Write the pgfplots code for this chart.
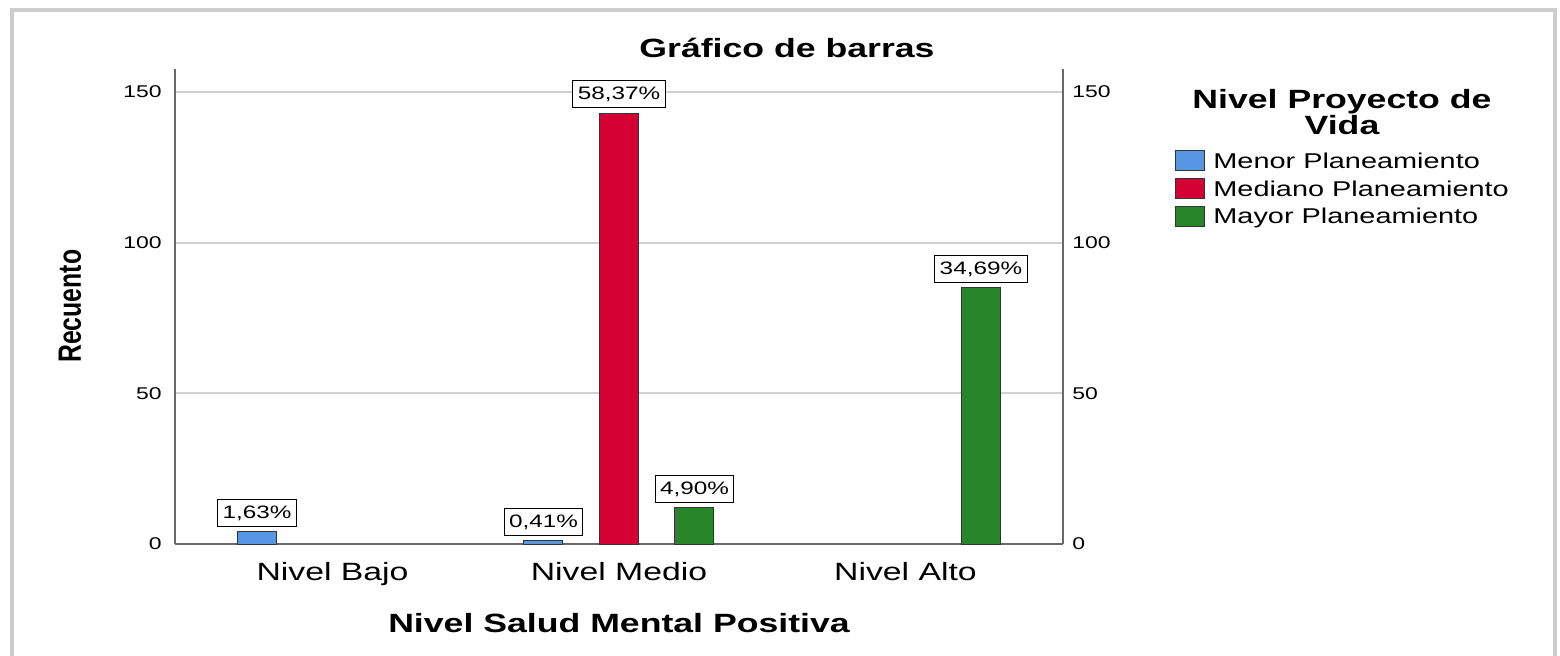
\documentclass[border=0pt]{standalone}
\usepackage{fontspec}
\setmainfont{Liberation Sans}
\usepackage{graphicx}
\usepackage{pgfplots}
\pgfplotsset{compat=1.18}

\definecolor{menor}{RGB}{86,150,226}
\definecolor{mediano}{RGB}{213,0,51}
\definecolor{mayor}{RGB}{41,133,41}
\definecolor{axisgray}{RGB}{105,105,105}
\definecolor{gridgray}{RGB}{208,208,208}
\definecolor{framegray}{RGB}{205,205,205}

% the reference text is set wide
\newcommand\sx[1]{\scalebox{1.35}[1]{#1}}

\pgfplotsset{
  swatch/.style={
    fill=#1, draw=black!80, line width=0.5pt,
    legend image code/.code={\draw[fill=#1, draw=black!80, line width=0.5pt] (0pt,-4.7pt) rectangle (14.5pt,5.3pt);}
  },
  frame/.style={
    at={(0,0)}, anchor=south west,
    scale only axis, width=444pt, height=237.75pt,
    xmin=-0.55, xmax=2.55, ymin=0, ymax=157.8,
    ytick={0,50,100,150},
    major tick length=0pt,
    /pgf/number format/assume math mode=true,
    yticklabel={\sx{\pgfmathprintnumber{\tick}}},
  },
}

\begin{document}
\begin{tikzpicture}[x=1pt,y=1pt]
% 1px of the reference = 0.5pt, origin at the lower left corner of the axis
\useasboundingbox (-87.5,-55.5) rectangle (692.5,272);
\draw[framegray, line width=2pt] (-81.5,-80) -- (-81.5,267.25) -- (690,267.25) -- (690,-80);

\begin{axis}[
  frame,
  ybar,
  axis x line=bottom, axis y line=left,
  axis line style={-, axisgray, line width=1pt},
  xtick={0,1,2},
  xticklabels={\sx{Nivel Bajo},\sx{Nivel Medio},\sx{Nivel Alto}},
  ymajorgrids, major grid style={gridgray, line width=1pt},
  yticklabel style={font=\fontsize{8.5}{10}\selectfont, anchor=east, inner sep=0pt, xshift=-6.5pt},
  xticklabel style={font=\fontsize{12.5}{14}\selectfont, anchor=base, inner sep=0pt, yshift=-18pt},
  xlabel={\sx{Nivel Salud Mental Positiva}},
  xlabel style={font=\bfseries\fontsize{13.2}{15}\selectfont, at={(axis description cs:0.5,-0.18507)}, anchor=base, inner sep=0pt},
  ylabel={\scalebox{1}[1.3]{Recuento}},
  ylabel style={font=\bfseries\fontsize{12.4}{15}\selectfont, at={(axis description cs:-0.11824,0.5)}, anchor=center, inner sep=0pt},
  bar width=19.5pt,
  point meta=explicit symbolic,
  nodes near coords={\sx{\pgfplotspointmeta}},
  nodes near coords style={font=\fontsize{9}{10}\selectfont, text=black, fill=white, draw=black, line width=0.5pt,
    inner xsep=2.5pt, inner ysep=3pt, anchor=south, yshift=2.5pt},
  legend style={at={(axis description cs:1.1261,0.8286)}, anchor=north west, draw=none, fill=none,
    inner sep=0pt, row sep=3.3pt, font=\fontsize{10.7}{12}\selectfont,
    nodes={inner sep=0pt, text height=8.5pt, text depth=1.5pt},
    /tikz/every odd column/.append style={column sep=4pt}},
  legend cell align=left,
]
\addplot[swatch=menor, bar shift=-37.75pt] coordinates {(0,4) [1,63\%] (1,1) [0,41\%]};
\addplot[swatch=mediano, bar shift=0pt] coordinates {(1,143) [58,37\%]};
\addplot[swatch=mayor, bar shift=37.75pt] coordinates {(1,12) [4,90\%] (2,85) [34,69\%]};
\legend{\sx{Menor Planeamiento},\sx{Mediano Planeamiento},\sx{Mayor Planeamiento}}
\end{axis}

\begin{axis}[
  frame,
  axis x line=none, axis y line=right,
  axis line style={-, axisgray, line width=1pt},
  yticklabel style={font=\fontsize{8.5}{10}\selectfont, anchor=west, inner sep=0pt, xshift=4.5pt},
]
\end{axis}

\node[font=\bfseries\fontsize{13.2}{15}\selectfont, anchor=base] at (306,243.5) {\sx{Gráfico de barras}};
\node[font=\bfseries\fontsize{13.2}{15}\selectfont, anchor=base] at (583.5,218) {\sx{Nivel Proyecto de}};
\node[font=\bfseries\fontsize{13.2}{15}\selectfont, anchor=base] at (583.5,205) {\sx{Vida}};
\end{tikzpicture}
\end{document}
